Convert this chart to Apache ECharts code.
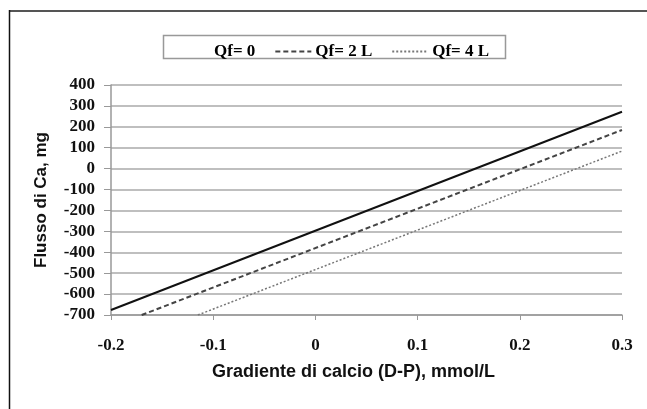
<!DOCTYPE html>
<html>
<head>
<meta charset="utf-8">
<script src="https://cdn.jsdelivr.net/npm/echarts@6/dist/echarts.min.js"></script>
<style>
  html, body { margin: 0; padding: 0; background: #fff; }
  #chart { width: 647px; height: 409px; }
</style>
</head>
<body>
<div id="chart"></div>
<script>
// endpoints: [gradiente, flusso]
const seriesNames = ['Qf= 0', 'Qf= 2 L', 'Qf= 4 L']
const qf0 = [[-0.2, -676], [0.3, 272]]
const qf2 = [[-0.17, -700], [0.3, 185]]
const qf4 = [[-0.115, -700], [0.3, 84]]

const serif = 'Liberation Serif'
const sans = 'Liberation Sans'

const chart = echarts.init(document.getElementById('chart'))

chart.setOption({
    animation: false,
    backgroundColor: '#fff',
    graphic: [
        { type: 'line', shape: { x1: 9, y1: 11, x2: 647, y2: 11 }, style: { stroke: '#555', lineWidth: 2 } },
        { type: 'line', shape: { x1: 9.5, y1: 10, x2: 9.5, y2: 409 }, style: { stroke: '#111', lineWidth: 1.5 } },
        { type: 'rect', shape: { x: 163.5, y: 35.5, width: 342, height: 23 }, style: { fill: 'none', stroke: '#999', lineWidth: 1.5 } }
    ],
    grid: {
        left: 111,
        right: 25,
        top: 85,
        bottom: 94
    },
    legend: {
        top: 38,
        left: 168,
        itemWidth: 36,
        itemHeight: 10,
        itemGap: 19,
        itemStyle: { opacity: 0 },
        textStyle: { fontFamily: serif, fontWeight: 'bold', fontSize: 17, color: '#000', padding: [0, 0, 0, -1] },
        data: [
            { name: seriesNames[0], lineStyle: { opacity: 0 } },
            { name: seriesNames[1] },
            { name: seriesNames[2] }
        ]
    },
    xAxis: {
        type: 'value',
        min: -0.2,
        max: 0.3,
        interval: 0.1,
        name: 'Gradiente di calcio (D-P), mmol/L',
        nameLocation: 'middle',
        nameGap: 48,
        nameTextStyle: { fontFamily: sans, fontWeight: 'bold', fontSize: 18, color: '#111', padding: [0, 26, 0, 0] },
        axisLine: { show: true, onZero: false, lineStyle: { color: '#999', width: 1.5 } },
        axisTick: { show: true, length: 5, lineStyle: { color: '#999' } },
        axisLabel: { fontFamily: serif, fontWeight: 'bold', fontSize: 17, color: '#111', margin: 22 },
        splitLine: { show: false }
    },
    yAxis: {
        type: 'value',
        min: -700,
        max: 400,
        interval: 100,
        name: 'Flusso di Ca, mg',
        nameLocation: 'middle',
        nameGap: 61,
        nameTextStyle: { fontFamily: sans, fontWeight: 'bold', fontSize: 17, color: '#111' },
        axisLine: { show: true, onZero: false, lineStyle: { color: '#999', width: 1.5 } },
        axisTick: { show: true, length: 7, lineStyle: { color: '#999' } },
        axisLabel: { fontFamily: serif, fontWeight: 'bold', fontSize: 17, color: '#111', margin: 16 },
        splitLine: { show: true, lineStyle: { color: '#aaa', width: 1.5 } }
    },
    series: [
        {
            name: seriesNames[0],
            type: 'line',
            data: qf0,
            symbol: 'none',
            itemStyle: { color: '#111' },
            lineStyle: { color: '#111', width: 2, type: 'solid' }
        },
        {
            name: seriesNames[1],
            type: 'line',
            data: qf2,
            symbol: 'none',
            itemStyle: { color: '#444' },
            lineStyle: { color: '#444', width: 2, type: [5, 3] }
        },
        {
            name: seriesNames[2],
            type: 'line',
            data: qf4,
            symbol: 'none',
            itemStyle: { color: '#777' },
            lineStyle: { color: '#777', width: 1.5, type: [2, 2] }
        }
    ]
})
</script>
</body>
</html>
